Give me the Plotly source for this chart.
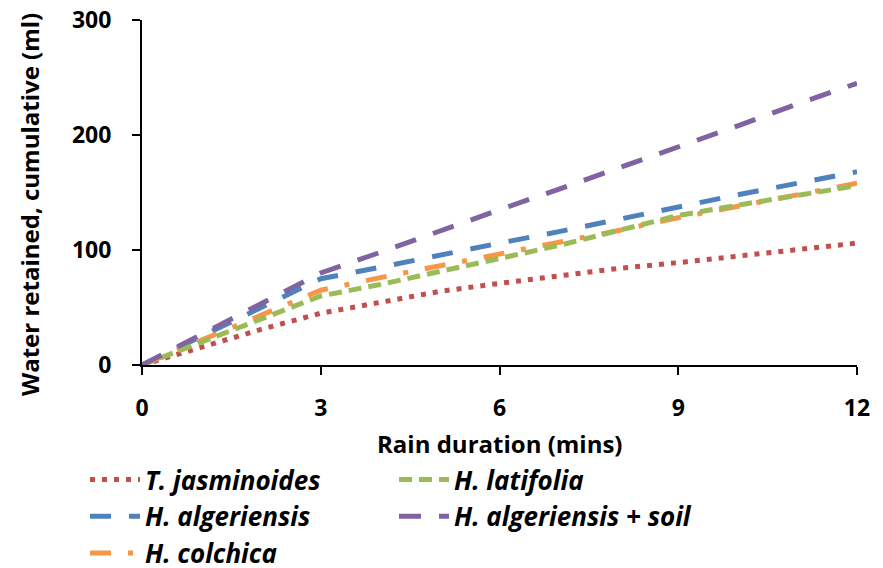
import plotly.graph_objects as go

minutes = [0, 1, 2, 3, 4, 5, 6, 7, 8, 9, 10, 11, 12]
t_jasminoides = [0, 16, 31, 45, 55, 64, 71, 78, 84, 89, 95, 101, 106]
h_algeriensis = [0, 25, 50, 75, 85, 96, 106, 116, 127, 137, 148, 158, 168]
h_colchica = [0, 22, 44, 65, 76, 86, 96, 107, 117, 128, 138, 148, 158]
h_latifolia = [0, 20, 40, 60, 70, 81, 92, 104, 117, 130, 139, 148, 156]
h_alg_soil = [0, 27, 54, 80, 98, 117, 135, 153, 171, 190, 208, 227, 245]

series = [
    ("T. jasminoides", t_jasminoides, "#C0504D", "5px,7px", 1),
    ("H. algeriensis", h_algeriensis, "#4F81BD", "21px,18px", 3),
    ("H. colchica", h_colchica, "#F79646", "21px,17px,5px,17px", 5),
    ("H. latifolia", h_latifolia, "#9BBB59", "13px,7px", 2),
    ("H. algeriensis + soil", h_alg_soil, "#8064A2", "22px,18px", 4),
]

fig = go.Figure()
for name, vals, color, dash, rank in series:
    fig.add_trace(go.Scatter(
        x=minutes, y=vals, mode="lines", name="<b><i>" + name + "</i></b>",
        line=dict(color=color, width=5, dash=dash), legendrank=rank,
    ))

font_family = "Open Sans, Noto Sans, sans-serif"
fig.update_layout(
    width=883, height=568,
    margin=dict(l=142, r=26, t=20, b=203, autoexpand=False),
    plot_bgcolor="white", paper_bgcolor="white",
    font=dict(family=font_family, size=23, color="black"),
    legend=dict(
        orientation="h", x=85 / 883, xref="container", xanchor="left",
        y=0.197, yref="container", yanchor="top",
        entrywidth=244, entrywidthmode="pixels",
        font=dict(size=26, color="black"),
        itemwidth=50, tracegroupgap=0,
    ),
    xaxis=dict(
        range=[0, 12], tickvals=[0, 3, 6, 9, 12],
        ticktext=["<b>0</b>", "<b>3</b>", "<b>6</b>", "<b>9</b>", "<b>12</b>"],
        showline=True, linecolor="black", linewidth=2,
        ticks="outside", ticklen=8, tickwidth=2, tickcolor="black",
        ticklabelstandoff=13,
        showgrid=False, zeroline=False,
    ),
    yaxis=dict(
        range=[0, 300], tickvals=[0, 100, 200, 300],
        ticktext=["<b>0</b>", "<b>100</b>", "<b>200</b>", "<b>300</b>"],
        showline=True, linecolor="black", linewidth=2,
        ticks="outside", ticklen=8, tickwidth=2, tickcolor="black",
        ticklabelstandoff=16,
        showgrid=False, zeroline=False,
    ),
    annotations=[
        dict(
            text="<b>Water retained, cumulative (ml)</b>", textangle=-90,
            xref="paper", yref="paper", x=(30 - 142) / 715, y=(365 - 205) / 345,
            xanchor="center", yanchor="middle", showarrow=False,
            font=dict(size=24, color="black"),
        ),
        dict(
            text="<b>Rain duration (mins)</b>",
            xref="paper", yref="paper", x=0.5, y=(365 - 443) / 345,
            xanchor="center", yanchor="middle", showarrow=False,
            font=dict(size=24, color="black"),
        ),
    ],
)

fig.write_html("out.html")
